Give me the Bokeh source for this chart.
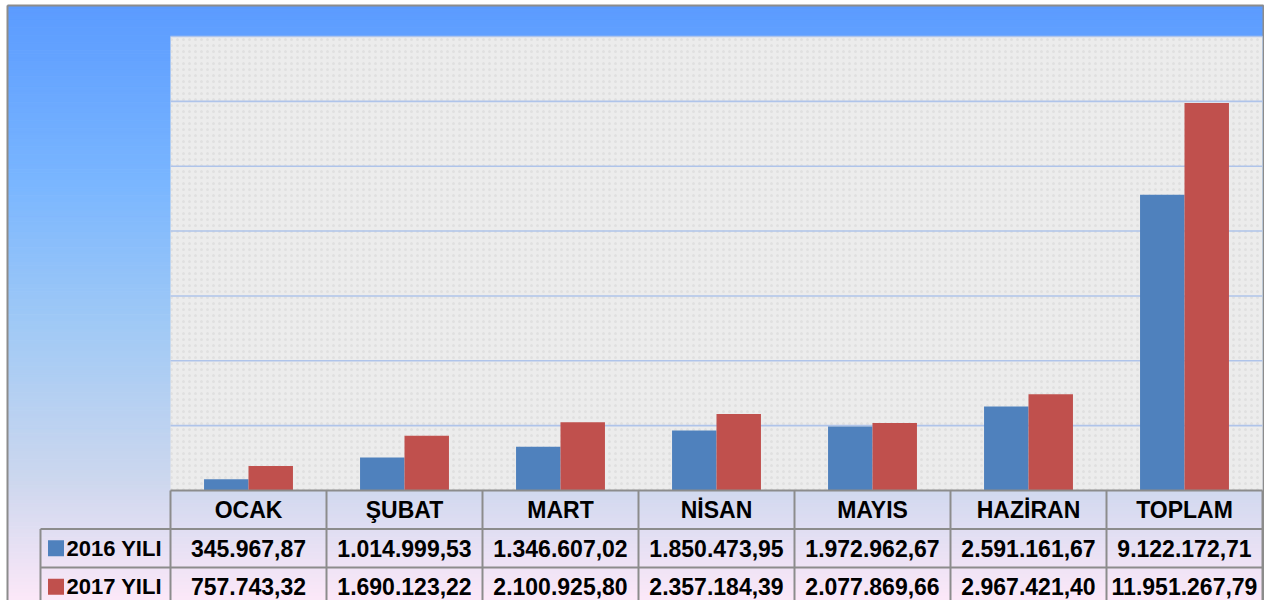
import numpy as np
from bokeh.plotting import figure
from bokeh.models import Range1d, ColumnDataSource
from bokeh.core.properties import value
from bokeh.embed import file_html
from bokeh.resources import INLINE

# ---- data ----
categories = ["OCAK", "ŞUBAT", "MART", "NİSAN", "MAYIS", "HAZİRAN", "TOPLAM"]
series_names = ["2016 YILI", "2017 YILI"]
values_2016 = [345967.87, 1014999.53, 1346607.02, 1850473.95, 1972962.67, 2591161.67, 9122172.71]
values_2017 = [757743.32, 1690123.22, 2100925.80, 2357184.39, 2077869.66, 2967421.40, 11951267.79]
y_ticks = [2e6, 4e6, 6e6, 8e6, 10e6, 12e6, 14e6]

BLUE = "#4F81BD"
RED = "#C0504D"
GRID = "#AFC4EA"
BORDER = "#8C8C8C"
FONT = value("Liberation Sans")


def tr_fmt(v):
    s = f"{v:,.2f}"
    return s.replace(",", "X").replace(".", ",").replace("X", ".")


W, H = 1264, 600
col_px = 156.0
left_px = 170.0
base_px = 490.0
top_px = 36.0
ymax = 14e6
px_per_val = (base_px - top_px) / ymax
row_px = 38.5

x0 = -left_px / col_px
x1 = x0 + W / col_px
y0 = -(H - base_px) / px_per_val
y1 = ymax + top_px / px_per_val

p = figure(width=W, height=H, x_range=Range1d(x0, x1), y_range=Range1d(y0, y1),
           output_backend="svg", toolbar_location=None, min_border=0,
           x_axis_type=None, y_axis_type=None)
p.grid.visible = False
p.outline_line_color = None
p.background_fill_color = "#FFFFFF"
p.border_fill_color = "#FFFFFF"

# table rows range
p.extra_y_ranges = {"tbl": Range1d(-(H - base_px) / row_px, base_px / row_px)}

# ---- outer box with gradient ----
bx0 = (7 - left_px) / col_px
bx1 = (1263 - left_px) / col_px
by1 = ymax + (top_px - 5) / px_per_val
stops_pos = [0.0, 0.3, 0.55, 0.8, 1.0]
stops_col = [(91, 155, 255), (122, 182, 255), (162, 202, 245), (205, 215, 238), (252, 232, 248)]
n = 160
edges = np.linspace(by1, y0, n + 1)
cols = []
for k in range(n):
    t = (k + 0.5) / n
    rgb = [int(round(np.interp(t, stops_pos, [c[j] for c in stops_col]))) for j in range(3)]
    cols.append("#%02x%02x%02x" % tuple(rgb))
p.quad(left=bx0, right=bx1, top=edges[:-1], bottom=edges[1:], fill_color=cols,
       line_color=cols, line_width=1)
p.segment(x0=[bx0, bx0, bx1], x1=[bx0, bx1, bx1], y0=[y0, by1, by1], y1=[by1, by1, y0],
          line_color=BORDER, line_width=2)

# ---- plot area ----
ncat = len(categories)
p.quad(left=0, right=ncat, bottom=0, top=ymax, fill_color="#ECECEC", line_color=None)
p.quad(left=0, right=ncat, bottom=0, top=ymax, fill_color=None, line_color=None,
       hatch_pattern="dot", hatch_color="#C4C4C4", hatch_alpha=0.3, hatch_scale=6, hatch_weight=1)

# gridlines
p.segment(x0=[0] * len(y_ticks), x1=[ncat] * len(y_ticks), y0=y_ticks, y1=y_ticks,
          line_color=GRID, line_width=1.6)

# bars
xs = np.arange(ncat) + 0.5
bw = 0.285
src = ColumnDataSource(dict(x16=xs - bw / 2, x17=xs + bw / 2, v16=values_2016, v17=values_2017))
p.vbar(x="x16", top="v16", bottom=0, width=bw, source=src, fill_color=BLUE, line_color=None)
p.vbar(x="x17", top="v17", bottom=0, width=bw, source=src, fill_color=RED, line_color=None)

# ---- data table ----
leg_left = (40 - left_px) / col_px
vx = list(range(ncat + 1))
p.segment(x0=vx, x1=vx, y0=[0] * len(vx), y1=[-4] * len(vx), y_range_name="tbl",
          line_color=BORDER, line_width=2)
p.segment(x0=[leg_left], x1=[leg_left], y0=[-1], y1=[-4], y_range_name="tbl",
          line_color=BORDER, line_width=2)
p.segment(x0=[0, leg_left, leg_left], x1=[ncat, ncat, ncat], y0=[0, -1, -2], y1=[0, -1, -2],
          y_range_name="tbl", line_color=BORDER, line_width=2)

p.text(x=list(xs), y=[-0.5] * ncat, text=categories, y_range_name="tbl",
       text_font=FONT, text_font_style="bold", text_font_size="23px",
       text_align="center", text_baseline="middle", text_color="#000000")
p.text(x=list(xs), y=[-1.5] * ncat, text=[tr_fmt(v) for v in values_2016], y_range_name="tbl",
       text_font=FONT, text_font_style="bold", text_font_size="23px",
       text_align="center", text_baseline="middle", text_color="#000000")
p.text(x=list(xs), y=[-2.5] * ncat, text=[tr_fmt(v) for v in values_2017], y_range_name="tbl",
       text_font=FONT, text_font_style="bold", text_font_size="23px",
       text_align="center", text_baseline="middle", text_color="#000000")

# legend keys
key_x = (55.5 - left_px) / col_px
txt_x = (66 - left_px) / col_px
p.scatter(x=[key_x, key_x], y=[-1.5, -2.5], marker="square", size=16, y_range_name="tbl",
          fill_color=[BLUE, RED], line_color=None)
p.text(x=[txt_x, txt_x], y=[-1.5, -2.5], text=series_names, y_range_name="tbl",
       text_font=FONT, text_font_style="bold", text_font_size="22px",
       text_align="left", text_baseline="middle", text_color="#000000")

open("out.html", "w").write(file_html(p, INLINE))
